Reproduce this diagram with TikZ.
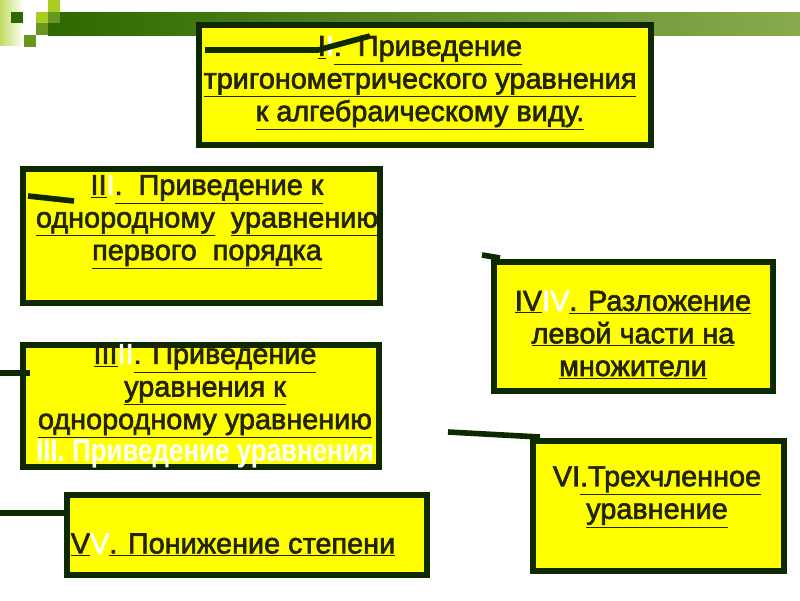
\documentclass[tikz,border=0pt]{standalone}
\usepackage{fontspec}
\setmainfont{Liberation Sans}
\newfontfamily\negrita[FakeBold=2.2]{Liberation Sans}
\newfontfamily\narrowfont[FakeStretch=0.82]{Liberation Sans}
\usepackage{tikz}
\usetikzlibrary{positioning}
\definecolor{borde}{RGB}{14,40,0}
\definecolor{amarillo}{RGB}{255,255,0}
\definecolor{tinta}{RGB}{35,35,0}
\definecolor{verdeosc}{RGB}{45,105,0}
\definecolor{verdeclaro}{RGB}{168,204,32}
\definecolor{verdemed}{RGB}{106,150,32}
\tikzset{
  metodo/.style={rectangle, draw=borde, line width=4.3pt, fill=amarillo, inner sep=0pt},
  texto/.style={align=center, text=tinta, inner sep=0pt, font=\negrita\fontsize{20.5}{23.2}\selectfont},
  trazo/.style={draw=borde, line width=4pt}
}
\newcommand{\blanco}[1]{\textcolor{white}{#1}}
\newcommand{\sub}[1]{\underline{#1}}

\begin{document}
\begin{tikzpicture}[x=0.025cm, y=-0.025cm]
    \useasboundingbox (0,0) rectangle (800,600);

    % --- Franja superior ---
    \fill[left color=verdeclaro!70, right color=white] (0,0) rectangle (24,45);
    \shade[left color=verdeosc, right color=verdemed!80] (48,12) rectangle (800,35);
    \fill[verdeosc] (11,12) rectangle (23,23);
    \fill[verdeclaro] (36,12) rectangle (48,23);
    \fill[verdeclaro] (48,0) rectangle (60,12);
    \fill[verdemed] (48,12) rectangle (60,23);
    \fill[verdemed] (36,23) rectangle (48,35);
    \fill[verdemed] (24,35) rectangle (36,47);

    % --- Cajas ---
    \node (uno) [metodo, minimum width=11.3cm, minimum height=3cm] at (425,85) {};
    \node (dos) [metodo, minimum width=8.925cm, minimum height=3.35cm] at (201.5,236) {};
    \node (tres) [metodo, minimum width=8.9cm, minimum height=3.05cm] at (201,406) {};
    \node (cuatro) [metodo, minimum width=6.975cm, minimum height=3.225cm] at (633.5,326.5) {};
    \node (seis) [metodo, minimum width=6.275cm, minimum height=3.25cm] at (658.5,506) {};
    \node (cinco) [metodo, minimum width=9cm, minimum height=2cm] at (247,535) {};

    % --- Textos ---
    \node (t1) [texto] at (420,83) {\sub{I}\blanco{I}\sub{.\ \ Приведение}\\
        \sub{тригонометрического уравнения}\\ \sub{к алгебраическому виду.}};
    \node (t2) [texto] at (207,222) {\sub{II}\blanco{I}\sub{.\ \ Приведение к}\\
        \sub{однородному}\ \ \sub{уравнению}\\ \sub{первого\ \ порядка}};
    \node (t3) [texto] at (205,391) {\sub{III}\blanco{II}\sub{. Приведение}\\
        \sub{уравнения к}\\ \sub{однородному уравнению}};
    \node (t3b) [texto, text=white, font=\narrowfont\bfseries\fontsize{22.5}{23.2}\selectfont, below=1pt of t3] {III. Приведение уравнения};
    \node (t4) [texto] at (633,335) {\sub{IV}\blanco{IV}\sub{. Разложение}\\
        \sub{левой части на}\\ \sub{множители}};
    \node (t6) [texto] at (657,497) {VI\sub{.Трехчленное}\\ \sub{уравнение}};
    \node (t5) [texto] at (233,545) {\sub{V}\blanco{V}\sub{. Понижение степени}};

    % --- Trazos sueltos ---
    \draw[trazo] (205,50) -- (318,50) -- (370,36);
    \draw[trazo] (28,196) -- (74,201);
    \draw[trazo] (0,373) -- (30,373);
    \draw[trazo] (482,255) -- (500,258);
    \draw[trazo] (448,432) -- (540,437);
    \draw[trazo] (0,513) -- (70,513);

\end{tikzpicture}
\end{document}
